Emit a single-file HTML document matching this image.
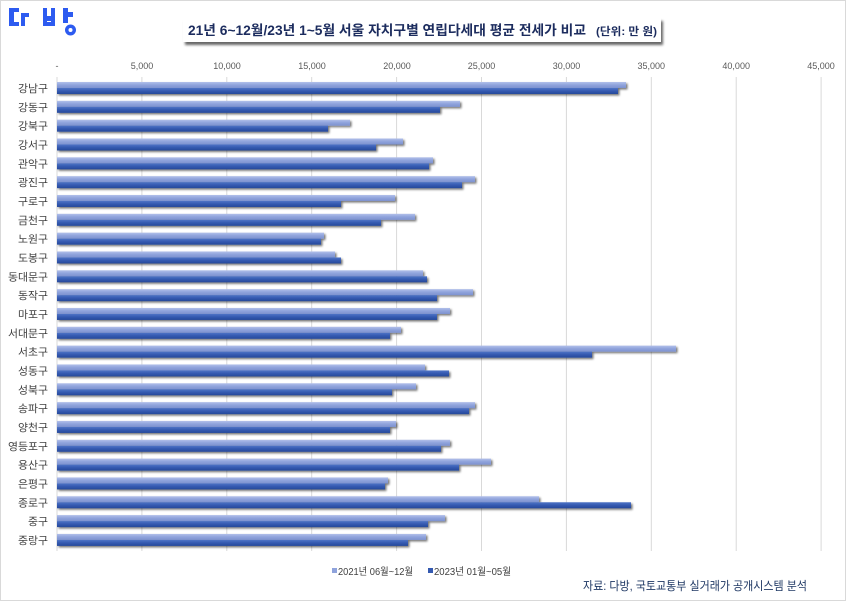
<!DOCTYPE html>
<html>
<head>
<meta charset="utf-8">
<style>
html,body{margin:0;padding:0;background:#fff;}
svg{display:block;}
text{font-family:"Liberation Sans","Noto Sans CJK KR",sans-serif;}
</style>
</head>
<body>
<svg width="846" height="601" viewBox="0 0 846 601" xmlns="http://www.w3.org/2000/svg">
<defs>
<linearGradient id="gl" x1="0" y1="0" x2="0" y2="1">
<stop offset="0" stop-color="#b2c0ea"/>
<stop offset="0.5" stop-color="#8fa3dc"/>
<stop offset="1" stop-color="#7d92cf"/>
</linearGradient>
<linearGradient id="gd" x1="0" y1="0" x2="0" y2="1">
<stop offset="0" stop-color="#4f74c6"/>
<stop offset="0.5" stop-color="#3459b0"/>
<stop offset="1" stop-color="#26499a"/>
</linearGradient>
<filter id="sh" x="-5%" y="-50%" width="110%" height="250%">
<feGaussianBlur in="SourceAlpha" stdDeviation="1"/>
<feOffset dx="1.5" dy="1.5" result="b"/>
<feComponentTransfer><feFuncA type="linear" slope="0.55"/></feComponentTransfer>
<feMerge><feMergeNode/><feMergeNode in="SourceGraphic"/></feMerge>
</filter>
<filter id="tsh" x="-5%" y="-50%" width="110%" height="250%">
<feGaussianBlur in="SourceAlpha" stdDeviation="1.3"/>
<feOffset dx="2" dy="3" result="b"/>
<feComponentTransfer><feFuncA type="linear" slope="0.6"/></feComponentTransfer>
<feMerge><feMergeNode/><feMergeNode in="SourceGraphic"/></feMerge>
</filter>
</defs>

<rect x="0.5" y="0.5" width="845" height="600" fill="#fff" stroke="#d9d9d9" stroke-width="1"/>

<!-- logo -->
<g fill="#2d5bf0">
<rect x="9" y="8" width="10" height="4"/>
<rect x="9" y="8" width="5" height="18"/>
<rect x="9" y="22" width="10" height="4"/>
<rect x="21" y="13" width="8" height="4"/>
<rect x="21" y="13" width="4" height="13"/>
<rect x="43" y="8" width="4" height="18"/>
<rect x="51" y="8" width="4" height="18"/>
<rect x="47" y="16" width="4" height="5"/>
<rect x="43" y="22" width="12" height="4"/>
<rect x="63" y="8" width="5" height="15"/>
<rect x="68" y="12" width="5" height="5"/>
<circle cx="70.5" cy="30" r="5.5"/>
</g>
<circle cx="70.5" cy="30" r="2" fill="#fff"/>

<!-- title box -->
<rect x="183" y="18" width="478" height="24" fill="#fff" filter="url(#tsh)"/>
<text x="188" y="35" font-size="13.5" font-weight="bold" fill="#1c2c5e" textLength="398" lengthAdjust="spacingAndGlyphs">21년 6~12월/23년 1~5월 서울 자치구별 연립다세대 평균 전세가 비교</text>
<text x="596" y="35" font-size="11" font-weight="bold" fill="#1c2c5e" textLength="61" lengthAdjust="spacingAndGlyphs">(단위: 만 원)</text>

<!-- axis tick labels -->
<g font-size="9" fill="#595959" text-anchor="middle">
<text x="57" y="69">-</text>
<text x="142" y="69">5,000</text>
<text x="227" y="69">10,000</text>
<text x="312" y="69">15,000</text>
<text x="397" y="69">20,000</text>
<text x="481.5" y="69">25,000</text>
<text x="566.5" y="69">30,000</text>
<text x="651.3" y="69">35,000</text>
<text x="736.2" y="69">40,000</text>
<text x="821" y="69">45,000</text>
</g>

<!-- gridlines -->
<g stroke="#d9d9d9" stroke-width="1">
<line x1="57" y1="77" x2="57" y2="551"/>
<line x1="141.9" y1="77" x2="141.9" y2="551"/>
<line x1="226.8" y1="77" x2="226.8" y2="551"/>
<line x1="311.7" y1="77" x2="311.7" y2="551"/>
<line x1="396.6" y1="77" x2="396.6" y2="551"/>
<line x1="481.5" y1="77" x2="481.5" y2="551"/>
<line x1="566.4" y1="77" x2="566.4" y2="551"/>
<line x1="651.3" y1="77" x2="651.3" y2="551"/>
<line x1="736.2" y1="77" x2="736.2" y2="551"/>
<line x1="821.1" y1="77" x2="821.1" y2="551"/>
</g>

<!-- bars -->
<g filter="url(#sh)">
<rect x="57" y="82.00" width="569" height="6" fill="url(#gl)"/><rect x="57" y="88.00" width="561" height="6" fill="url(#gd)"/>
<rect x="57" y="100.83" width="403" height="6" fill="url(#gl)"/><rect x="57" y="106.83" width="383" height="6" fill="url(#gd)"/>
<rect x="57" y="119.66" width="293" height="6" fill="url(#gl)"/><rect x="57" y="125.66" width="271" height="6" fill="url(#gd)"/>
<rect x="57" y="138.49" width="346" height="6" fill="url(#gl)"/><rect x="57" y="144.49" width="319" height="6" fill="url(#gd)"/>
<rect x="57" y="157.32" width="376" height="6" fill="url(#gl)"/><rect x="57" y="163.32" width="372" height="6" fill="url(#gd)"/>
<rect x="57" y="176.15" width="418" height="6" fill="url(#gl)"/><rect x="57" y="182.15" width="405" height="6" fill="url(#gd)"/>
<rect x="57" y="194.98" width="338" height="6" fill="url(#gl)"/><rect x="57" y="200.98" width="284" height="6" fill="url(#gd)"/>
<rect x="57" y="213.81" width="358" height="6" fill="url(#gl)"/><rect x="57" y="219.81" width="324" height="6" fill="url(#gd)"/>
<rect x="57" y="232.64" width="267" height="6" fill="url(#gl)"/><rect x="57" y="238.64" width="264" height="6" fill="url(#gd)"/>
<rect x="57" y="251.47" width="278" height="6" fill="url(#gl)"/><rect x="57" y="257.47" width="284" height="6" fill="url(#gd)"/>
<rect x="57" y="270.30" width="366" height="6" fill="url(#gl)"/><rect x="57" y="276.30" width="370" height="6" fill="url(#gd)"/>
<rect x="57" y="289.13" width="416" height="6" fill="url(#gl)"/><rect x="57" y="295.13" width="380" height="6" fill="url(#gd)"/>
<rect x="57" y="307.96" width="393" height="6" fill="url(#gl)"/><rect x="57" y="313.96" width="380" height="6" fill="url(#gd)"/>
<rect x="57" y="326.79" width="344" height="6" fill="url(#gl)"/><rect x="57" y="332.79" width="333" height="6" fill="url(#gd)"/>
<rect x="57" y="345.62" width="619" height="6" fill="url(#gl)"/><rect x="57" y="351.62" width="535" height="6" fill="url(#gd)"/>
<rect x="57" y="364.45" width="368" height="6" fill="url(#gl)"/><rect x="57" y="370.45" width="392" height="6" fill="url(#gd)"/>
<rect x="57" y="383.28" width="359" height="6" fill="url(#gl)"/><rect x="57" y="389.28" width="335" height="6" fill="url(#gd)"/>
<rect x="57" y="402.11" width="418" height="6" fill="url(#gl)"/><rect x="57" y="408.11" width="412" height="6" fill="url(#gd)"/>
<rect x="57" y="420.94" width="339" height="6" fill="url(#gl)"/><rect x="57" y="426.94" width="333" height="6" fill="url(#gd)"/>
<rect x="57" y="439.77" width="393" height="6" fill="url(#gl)"/><rect x="57" y="445.77" width="384" height="6" fill="url(#gd)"/>
<rect x="57" y="458.60" width="434" height="6" fill="url(#gl)"/><rect x="57" y="464.60" width="402" height="6" fill="url(#gd)"/>
<rect x="57" y="477.43" width="331" height="6" fill="url(#gl)"/><rect x="57" y="483.43" width="328" height="6" fill="url(#gd)"/>
<rect x="57" y="496.26" width="482" height="6" fill="url(#gl)"/><rect x="57" y="502.26" width="574" height="6" fill="url(#gd)"/>
<rect x="57" y="515.09" width="388" height="6" fill="url(#gl)"/><rect x="57" y="521.09" width="371" height="6" fill="url(#gd)"/>
<rect x="57" y="533.92" width="369" height="6" fill="url(#gl)"/><rect x="57" y="539.92" width="351" height="6" fill="url(#gd)"/>
</g>

<!-- category labels -->
<g font-size="10.5" fill="#404040" text-anchor="end">
<text x="48" y="92.0" textLength="30" lengthAdjust="spacingAndGlyphs">강남구</text>
<text x="48" y="110.8" textLength="30" lengthAdjust="spacingAndGlyphs">강동구</text>
<text x="48" y="129.7" textLength="30" lengthAdjust="spacingAndGlyphs">강북구</text>
<text x="48" y="148.5" textLength="30" lengthAdjust="spacingAndGlyphs">강서구</text>
<text x="48" y="167.3" textLength="30" lengthAdjust="spacingAndGlyphs">관악구</text>
<text x="48" y="186.2" textLength="30" lengthAdjust="spacingAndGlyphs">광진구</text>
<text x="48" y="205.0" textLength="30" lengthAdjust="spacingAndGlyphs">구로구</text>
<text x="48" y="223.8" textLength="30" lengthAdjust="spacingAndGlyphs">금천구</text>
<text x="48" y="242.6" textLength="30" lengthAdjust="spacingAndGlyphs">노원구</text>
<text x="48" y="261.5" textLength="30" lengthAdjust="spacingAndGlyphs">도봉구</text>
<text x="48" y="280.3" textLength="40" lengthAdjust="spacingAndGlyphs">동대문구</text>
<text x="48" y="299.1" textLength="30" lengthAdjust="spacingAndGlyphs">동작구</text>
<text x="48" y="318.0" textLength="30" lengthAdjust="spacingAndGlyphs">마포구</text>
<text x="48" y="336.8" textLength="40" lengthAdjust="spacingAndGlyphs">서대문구</text>
<text x="48" y="355.6" textLength="30" lengthAdjust="spacingAndGlyphs">서초구</text>
<text x="48" y="374.5" textLength="30" lengthAdjust="spacingAndGlyphs">성동구</text>
<text x="48" y="393.3" textLength="30" lengthAdjust="spacingAndGlyphs">성북구</text>
<text x="48" y="412.1" textLength="30" lengthAdjust="spacingAndGlyphs">송파구</text>
<text x="48" y="430.9" textLength="30" lengthAdjust="spacingAndGlyphs">양천구</text>
<text x="48" y="449.8" textLength="40" lengthAdjust="spacingAndGlyphs">영등포구</text>
<text x="48" y="468.6" textLength="30" lengthAdjust="spacingAndGlyphs">용산구</text>
<text x="48" y="487.4" textLength="30" lengthAdjust="spacingAndGlyphs">은평구</text>
<text x="48" y="506.3" textLength="30" lengthAdjust="spacingAndGlyphs">종로구</text>
<text x="48" y="525.1" textLength="20" lengthAdjust="spacingAndGlyphs">중구</text>
<text x="48" y="543.9" textLength="30" lengthAdjust="spacingAndGlyphs">중랑구</text>
</g>

<!-- legend -->
<rect x="332" y="568" width="5" height="5" fill="#8fa3dc"/>
<text x="338" y="575" font-size="10" fill="#404040" textLength="75" lengthAdjust="spacingAndGlyphs">2021년 06월~12월</text>
<rect x="428" y="568" width="5" height="5" fill="#3459b0"/>
<text x="434" y="575" font-size="10" fill="#404040" textLength="77" lengthAdjust="spacingAndGlyphs">2023년 01월~05월</text>

<!-- source -->
<text x="807" y="590" font-size="12" fill="#1f3864" text-anchor="end" textLength="224" lengthAdjust="spacingAndGlyphs">자료: 다방, 국토교통부 실거래가 공개시스템 분석</text>
</svg>
</body>
</html>
